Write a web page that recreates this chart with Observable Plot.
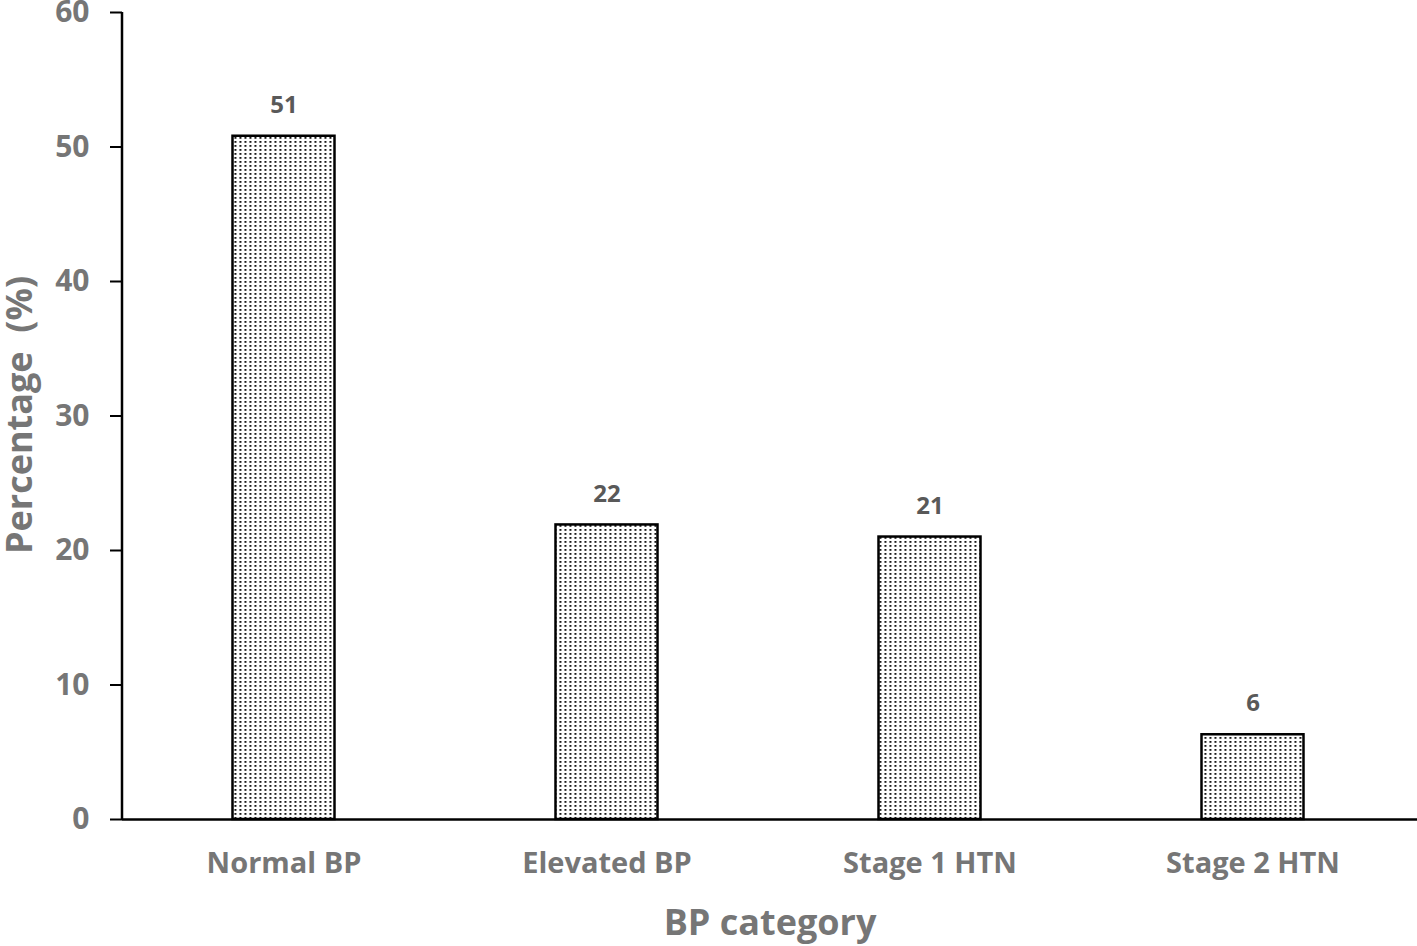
<!DOCTYPE html>
<html>
<head>
<meta charset="utf-8">
<script src="https://cdn.jsdelivr.net/npm/d3@7"></script>
<script src="https://cdn.jsdelivr.net/npm/@observablehq/plot@0.6"></script>
<style>
  html, body { margin: 0; padding: 0; background: #fff; }
  #chart svg { display: block; }
</style>
</head>
<body>
<div id="chart"></div>
<script>
const categories = ["Normal BP", "Elevated BP", "Stage 1 HTN", "Stage 2 HTN"];
const values = [50.8, 21.9, 21.0, 6.3];
const valueLabels = ["51", "22", "21", "6"];
const yTicks = [0, 10, 20, 30, 40, 50, 60];

const data = categories.map((c, i) => ({category: c, value: values[i], label: valueLabels[i]}));

const font = "'Open Sans', Lato, sans-serif";
const gray = "#767676";

const plot = Plot.plot({
  width: 1417,
  height: 946,
  marginLeft: 122,
  marginRight: 0,
  marginTop: 12,
  marginBottom: 127,
  style: {fontFamily: font, fontWeight: "bold", background: "#fff"},
  x: {domain: categories, paddingInner: 0.685, paddingOuter: 0.3425, label: null},
  y: {domain: [0, 60], label: null},
  marks: [
    Plot.barY(data, {x: "category", y: "value", fill: "url(#dots)", stroke: "#000", strokeWidth: 2.5, dx: -1.5}),
    Plot.text(data, {x: "category", y: "value", text: "label", dy: -31, dx: -1.5, fill: "#595959", fontSize: 24, fontWeight: "bold"}),
    Plot.axisY({ticks: yTicks, tickSize: 12, tickPadding: 21, stroke: "#000", strokeWidth: 2, fill: gray, fontSize: 30, fontWeight: "bold", label: null, strokeOpacity: 1}),
    Plot.axisX({tickSize: 0, tickPadding: 33, fill: gray, fontSize: 29, fontWeight: "bold", label: null, dx: -1.5}),
    Plot.ruleY([0], {stroke: "#000", strokeWidth: 2.5})
  ]
});

const svg = d3.select(plot);

// pattern fill for bars
const defs = svg.insert("defs", ":first-child");
const pat = defs.append("pattern")
  .attr("id", "dots")
  .attr("patternUnits", "userSpaceOnUse")
  .attr("width", 5)
  .attr("height", 4);
pat.append("rect").attr("width", 5).attr("height", 4).attr("fill", "#fff");
pat.append("rect").attr("x", 1).attr("y", 1).attr("width", 1.8).attr("height", 1.8).attr("fill", "#000");

// y axis line
svg.append("line")
  .attr("x1", 122).attr("x2", 122).attr("y1", 12).attr("y2", 820)
  .attr("stroke", "#000").attr("stroke-width", 2.5);

// axis titles
svg.append("text")
  .attr("x", 770).attr("y", 935)
  .attr("text-anchor", "middle")
  .attr("font-family", font).attr("font-weight", "bold")
  .attr("font-size", 36).attr("fill", gray)
  .text("BP category");
svg.append("text")
  .attr("transform", "translate(32,415) rotate(-90)")
  .attr("text-anchor", "middle")
  .attr("font-family", font).attr("font-weight", "bold")
  .attr("font-size", 36).attr("fill", gray)
  .attr("xml:space", "preserve")
  .style("white-space", "pre")
  .text("Percentage  (%)");

document.getElementById("chart").appendChild(plot);
</script>
</body>
</html>
